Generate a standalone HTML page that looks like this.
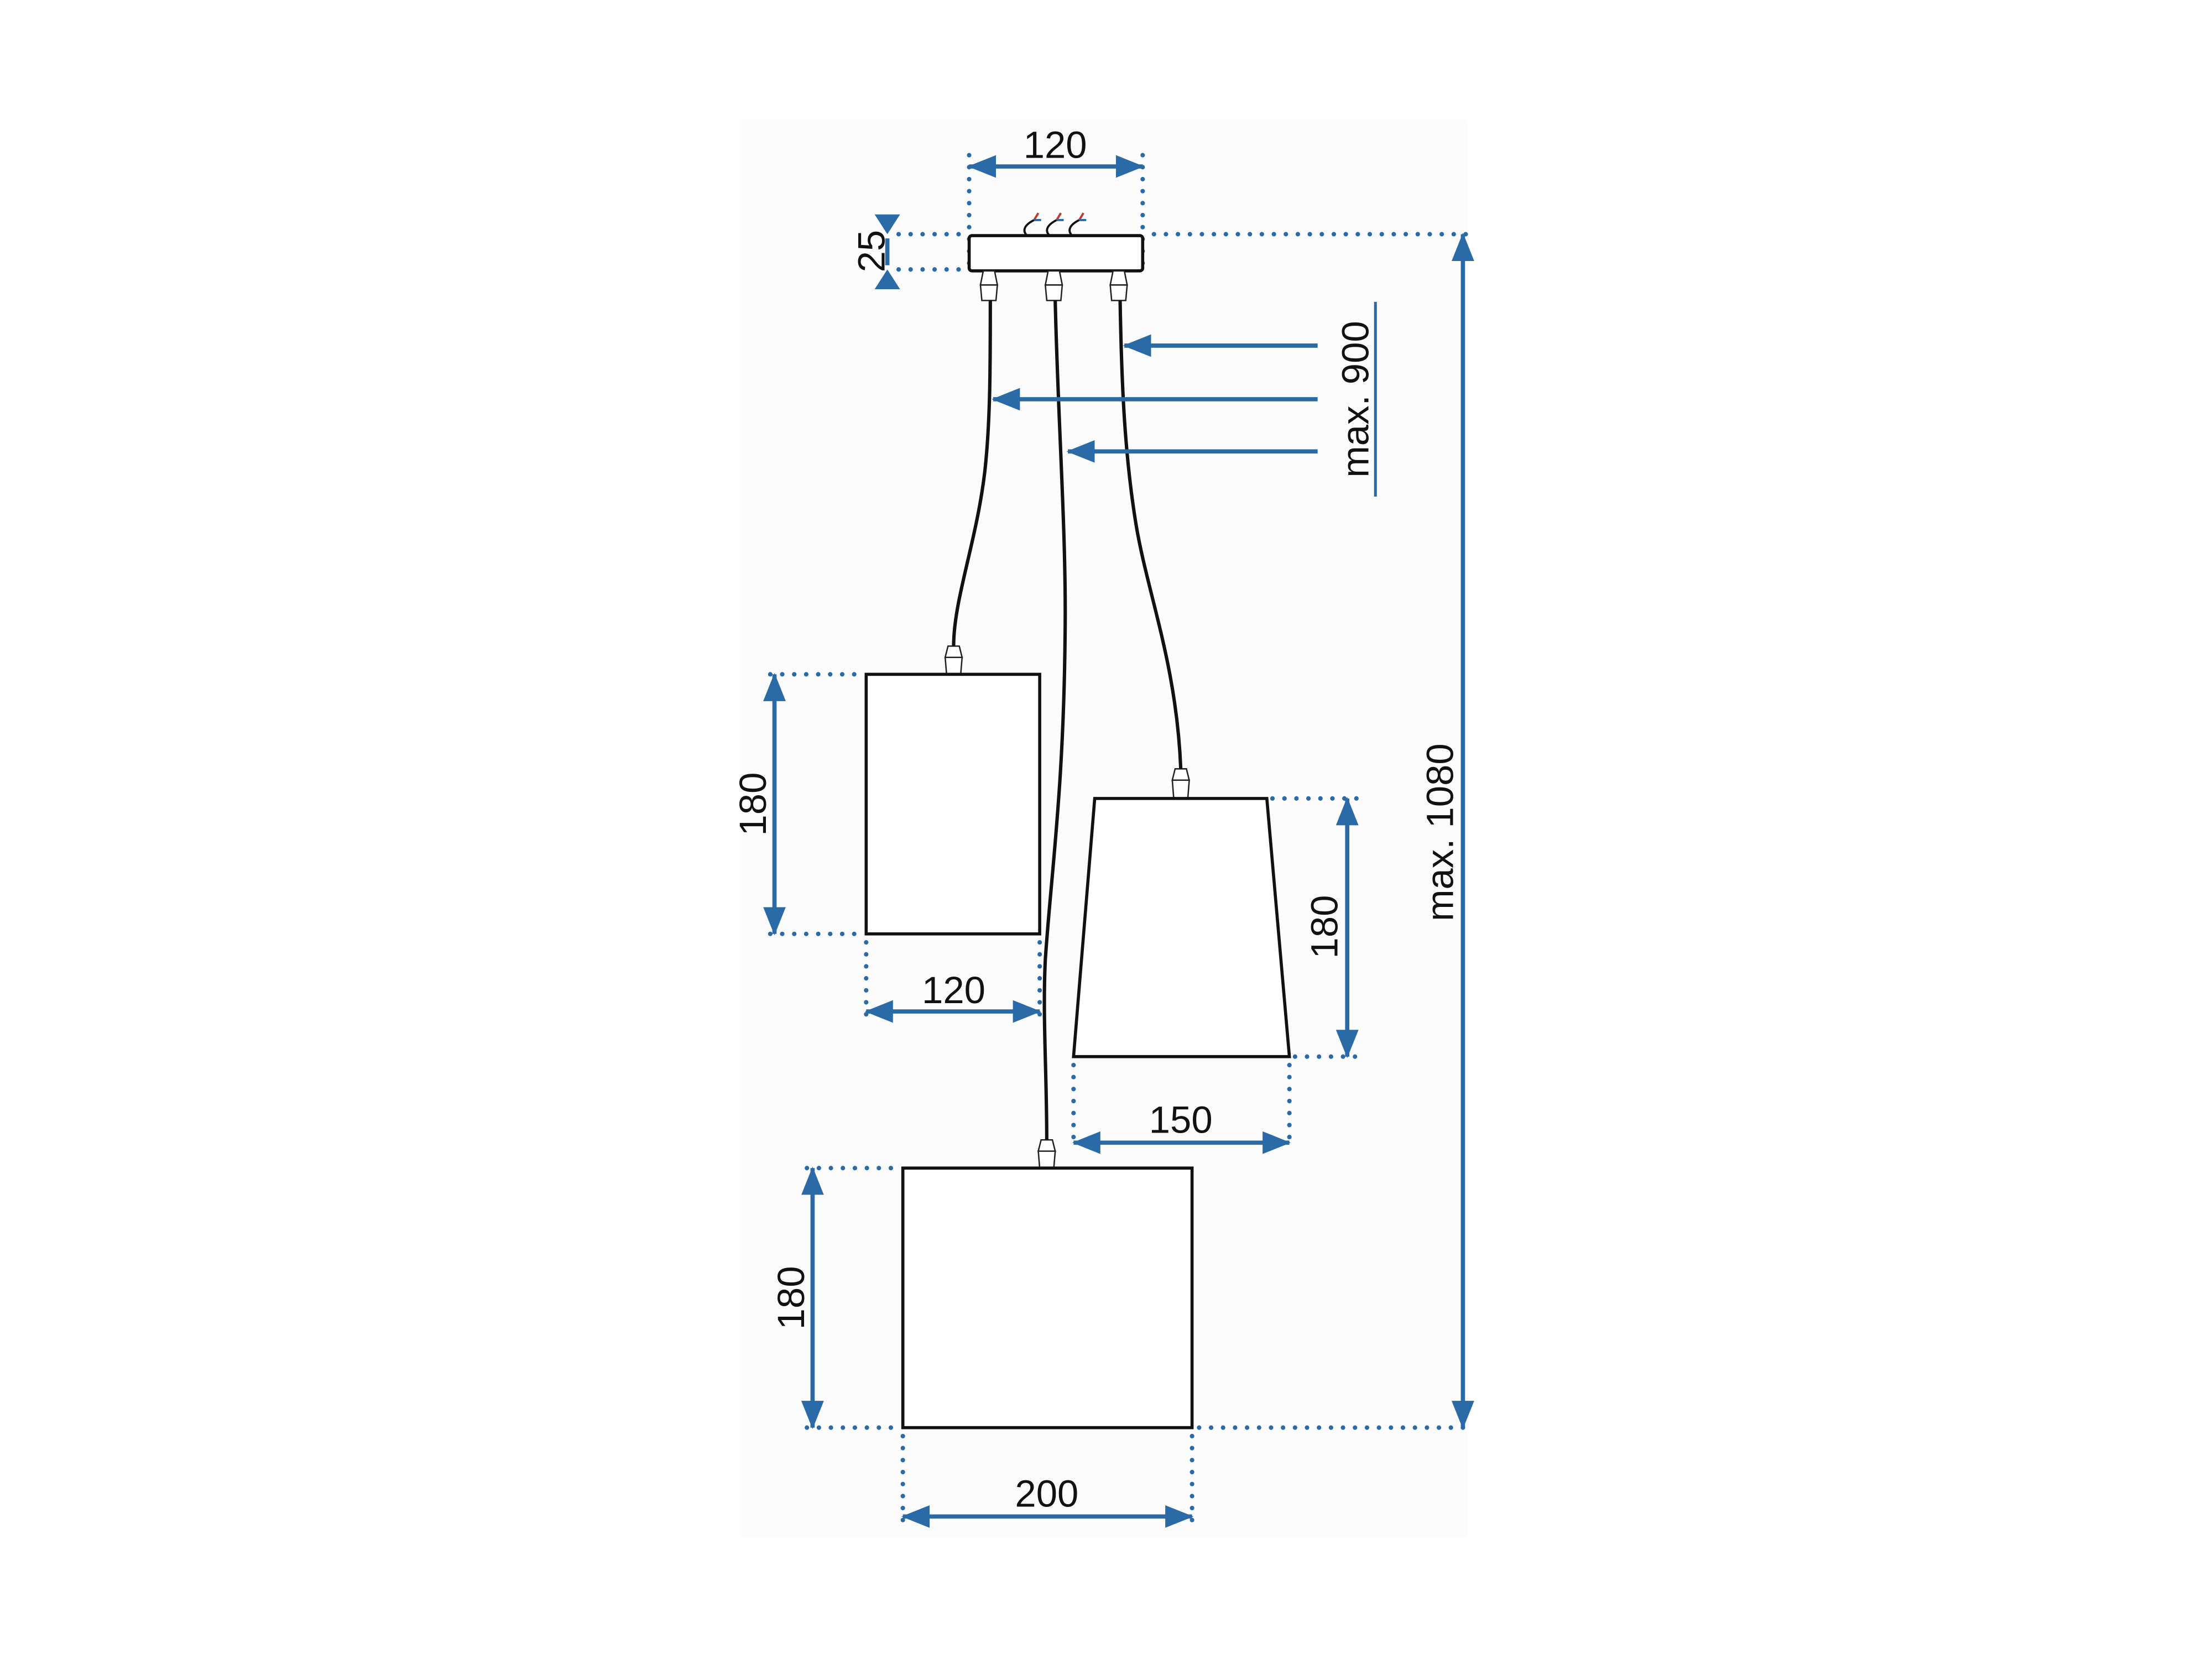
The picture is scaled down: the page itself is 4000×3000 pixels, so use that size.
<!DOCTYPE html>
<html><head><meta charset="utf-8"><style>
html,body{margin:0;padding:0;background:#fff;}
svg{display:block;}
text{font-family:"Liberation Sans",sans-serif;font-size:27px;fill:#111;}
</style></head><body>
<svg width="4000" height="3000" viewBox="0 0 1568 1176" xmlns="http://www.w3.org/2000/svg">
<defs>
<marker id="a" viewBox="0 0 20 16" refX="19" refY="8" markerWidth="20" markerHeight="16" markerUnits="userSpaceOnUse" orient="auto-start-reverse"><path d="M0,0L20,8L0,16z" fill="#2a6aa6"/></marker>
</defs>
<rect x="525" y="85" width="515" height="1005" fill="#fcfcfc"/>
<g stroke="#2a6aa6" stroke-width="3.2" stroke-linecap="round" stroke-dasharray="0 8.5" fill="none">
<path d="M687 110V190M810 110V192"/>
<path d="M637 166H687M818 166H1043M637 191H687"/>
<path d="M546 478H614M546 662H612"/>
<path d="M614 668V720M737 668V720"/>
<path d="M902 566H962M918 749H962"/>
<path d="M761 755V814M914 755V814"/>
<path d="M572 828H640M572 1012H640M850 1012H1043"/>
<path d="M640 1018V1082M845 1018V1082"/>
</g>
<!-- ceiling box -->
<rect x="687" y="167" width="123" height="25" rx="2" fill="#fff" stroke="#111" stroke-width="2.2"/>
<g fill="none" stroke-width="1.5">
<path d="M733 156c-6 3-9 7-5 11M749 156c-6 3-9 7-5 11M765 156c-6 3-9 7-5 11" stroke="#111"/>
<path d="M733 156l3-5M749 156l3-5M765 156l3-5" stroke="#c0392b"/>
<path d="M733 156h5M749 156h5M765 156h5" stroke="#2a6aa6"/>
</g>
<!-- connectors -->
<g fill="#fff" stroke="#222" stroke-width="1">
<path d="M697 192h8l2 10h-12z M695 202h12l-1 11h-10z"/>
<path d="M743 192h8l2 10h-12z M741 202h12l-1 11h-10z"/>
<path d="M789 192h8l2 10h-12z M787 202h12l-1 11h-10z"/>
<path d="M672 458h8l2 8h-12z M670 466h12l-1 12h-10z"/>
<path d="M833 545h8l2 8h-12z M831 553h12l-1 13h-10z"/>
<path d="M738 808h8l2 8h-12z M736 816h12l-1 12h-10z"/>
</g>
<!-- cables -->
<g fill="none" stroke="#111" stroke-width="2.4">
<path d="M702 213C702 260 702 300 698 335C692 385 676 425 676 458"/>
<path d="M748 213C750 300 756 380 755 450C754 560 745 620 741 680C739 720 742 760 742 808"/>
<path d="M794 213C795 270 797 320 805 370C813 420 834 470 837 545"/>
</g>
<!-- lamps -->
<g fill="#fff" stroke="#111" stroke-width="2.2">
<rect x="614" y="478" width="123" height="184"/>
<path d="M776 566H898L914 749H761z"/>
<rect x="640" y="828" width="205" height="184"/>
</g>
<g stroke="#2a6aa6" stroke-width="3" fill="none">
<path d="M687 118H810" marker-start="url(#a)" marker-end="url(#a)"/>
<path d="M629 169V188"/>
<path d="M934 245H797" marker-end="url(#a)"/>
<path d="M934 283H704" marker-end="url(#a)"/>
<path d="M934 320H757" marker-end="url(#a)"/>
<path d="M975 214V352" stroke-width="2"/>
<path d="M1037 166V1012" marker-start="url(#a)" marker-end="url(#a)"/>
<path d="M549 478V662" marker-start="url(#a)" marker-end="url(#a)"/>
<path d="M614 717H737" marker-start="url(#a)" marker-end="url(#a)"/>
<path d="M955 566V749" marker-start="url(#a)" marker-end="url(#a)"/>
<path d="M761 810H914" marker-start="url(#a)" marker-end="url(#a)"/>
<path d="M576 828V1012" marker-start="url(#a)" marker-end="url(#a)"/>
<path d="M640 1075H845" marker-start="url(#a)" marker-end="url(#a)"/>
</g>
<path d="M620 152H638L629 166zM620 205H638L629 191z" fill="#2a6aa6"/>
<!-- labels -->
<text x="748" y="112" text-anchor="middle">120</text>
<text x="676" y="711" text-anchor="middle">120</text>
<text x="837" y="803" text-anchor="middle">150</text>
<text x="742" y="1068" text-anchor="middle">200</text>
<text transform="translate(627,178) rotate(-90)" text-anchor="middle">25</text>
<text transform="translate(543,570) rotate(-90)" text-anchor="middle">180</text>
<text transform="translate(570,920) rotate(-90)" text-anchor="middle">180</text>
<text transform="translate(948,657) rotate(-90)" text-anchor="middle">180</text>
<text transform="translate(970,283) rotate(-90)" text-anchor="middle">max. 900</text>
<text transform="translate(1030,590) rotate(-90)" text-anchor="middle">max. 1080</text>
</svg>
</body></html>
